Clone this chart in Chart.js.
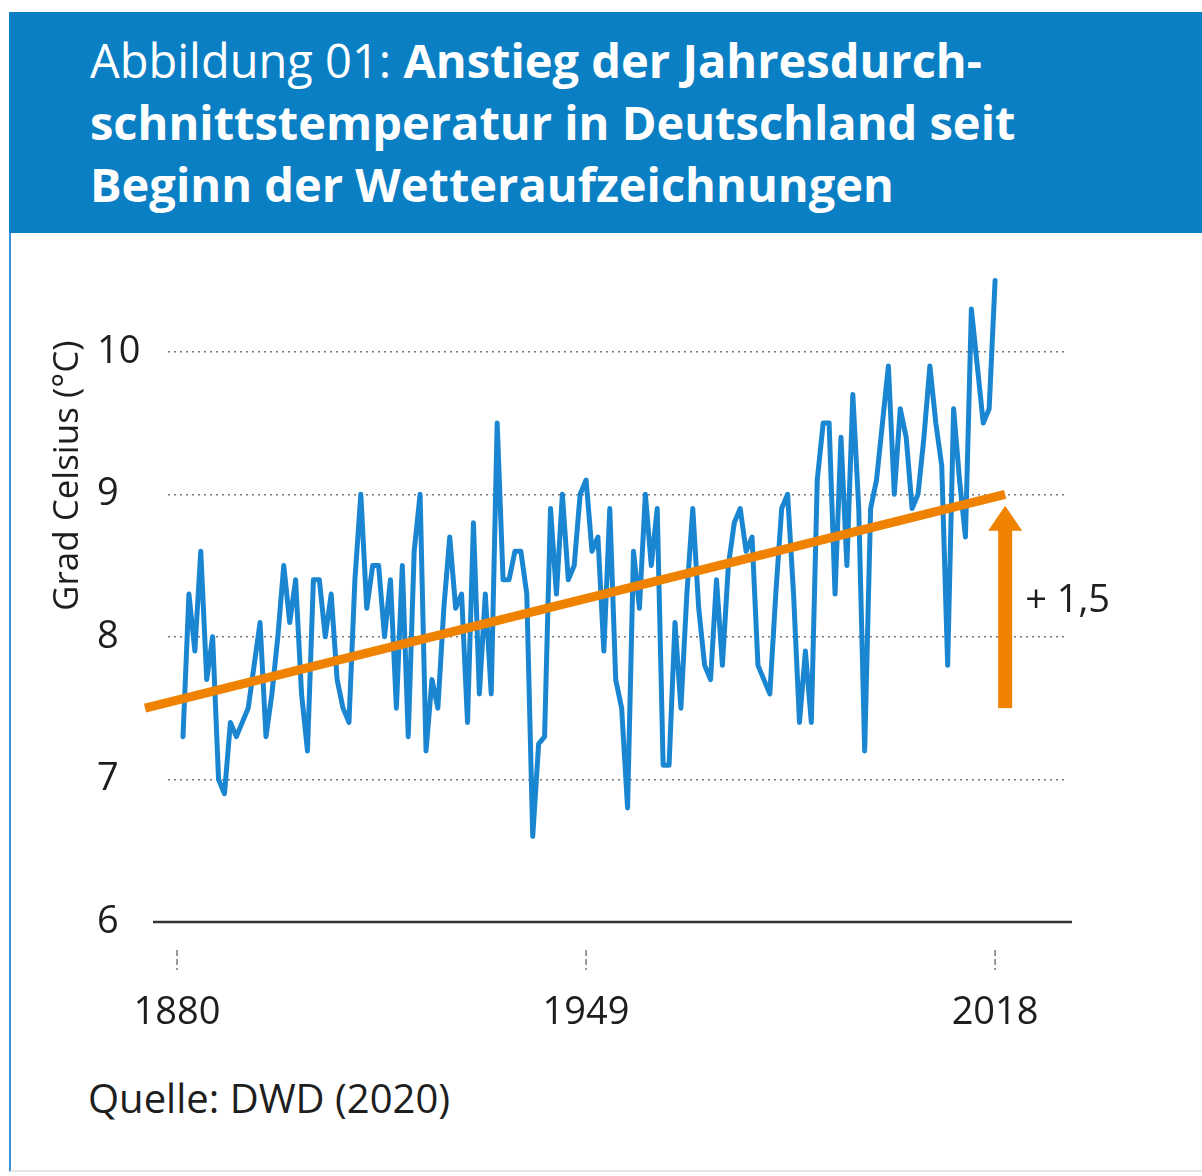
<!DOCTYPE html>
<html lang="de">
<head>
<meta charset="utf-8">
<title>Anstieg der Jahresdurchschnittstemperatur in Deutschland</title>
<script src="https://cdn.jsdelivr.net/npm/chart.js@4.4.1/dist/chart.umd.min.js"></script>
<style>
  html, body { margin: 0; padding: 0; background: #fff; }
  body { width: 1202px; height: 1176px; position: relative; overflow: hidden; font-family: "Open Sans", sans-serif; color: #1e1e1e; }
  #panel { position: absolute; left: 9px; top: 12px; width: 1193px; height: 1160px; border-left: 2px solid #3b92d2; border-bottom: 2px solid #e2e8ea; box-sizing: border-box; }
  #header { position: absolute; left: 9px; top: 12px; width: 1193px; height: 221px; background: #0b7fc4; }
  #title { position: absolute; left: 90px; top: 29px; margin: 0; color: #fff; font-size: 47px; line-height: 62px; font-weight: 700; white-space: nowrap; }
  #title span { font-weight: 400; }
  #source { position: absolute; left: 88px; top: 1072px; font-size: 40px; line-height: 52px; }
  #chart { position: absolute; left: 0; top: 242px; }
</style>
</head>
<body>
<div id="panel"></div>
<div id="header"></div>
<h1 id="title"><span>Abbildung 01:</span> Anstieg der Jahresdurch-<br>schnittstemperatur in Deutschland seit<br>Beginn der Wetteraufzeichnungen</h1>
<canvas id="chart" width="1202" height="820"></canvas>
<div id="source">Quelle: DWD (2020)</div>

<script>
// Jahresmittel Deutschland, 1881 - 2018 (°C)
var firstYear = 1881;
var temperatures = [
    7.3, 8.3, 7.9, 8.6, 7.7, 8.0, 7.0, 6.9, 7.4, 7.3,      // 1881-1890
    7.4, 7.5, 7.8, 8.1, 7.3, 7.6, 8.0, 8.5, 8.1, 8.4,      // 1891-1900
    7.6, 7.2, 8.4, 8.4, 8.0, 8.3, 7.7, 7.5, 7.4, 8.4,      // 1901-1910
    9.0, 8.2, 8.5, 8.5, 8.0, 8.4, 7.5, 8.5, 7.3, 8.6,      // 1911-1920
    9.0, 7.2, 7.7, 7.5, 8.2, 8.7, 8.2, 8.3, 7.4, 8.8,      // 1921-1930
    7.6, 8.3, 7.6, 9.5, 8.4, 8.4, 8.6, 8.6, 8.3, 6.6,      // 1931-1940
    7.25, 7.3, 8.9, 8.3, 9.0, 8.4, 8.5, 9.0, 9.1, 8.6,     // 1941-1950
    8.7, 7.9, 8.9, 7.7, 7.5, 6.8, 8.6, 8.2, 9.0, 8.5,      // 1951-1960
    8.9, 7.1, 7.1, 8.1, 7.5, 8.3, 8.9, 8.2, 7.8, 7.7,      // 1961-1970
    8.4, 7.8, 8.5, 8.8, 8.9, 8.6, 8.7, 7.8, 7.7, 7.6,      // 1971-1980
    8.3, 8.9, 9.0, 8.3, 7.4, 7.9, 7.4, 9.1, 9.5, 9.5,      // 1981-1990
    8.3, 9.4, 8.5, 9.7, 8.9, 7.2, 8.9, 9.1, 9.5, 9.9,      // 1991-2000
    9.0, 9.6, 9.4, 8.9, 9.0, 9.4, 9.9, 9.5, 9.2, 7.8,      // 2001-2010
    9.6, 9.1, 8.7, 10.3, 9.9, 9.5, 9.6, 10.5               // 2011-2018
];
var years = temperatures.map(function (v, i) { return firstYear + i; });

// orange trend line and the "+ 1,5" arrow
var trendYears = [1874.6, 2019.7];
var trendValues = [7.5, 9.0];
var arrowYear = 2019.7;
var arrowFrom = 7.5;
var arrowTo = 8.92;
var riseLabel = '+ 1,5';
var riseLabelValue = 8.25;

var xTicks = [1880, 1949, 2018];
var yTicks = [6, 7, 8, 9, 10];
var yMin = 6;
var yMax = 10.58;
var yTitle = 'Grad Celsius (°C)';
var yTitleCenter = 9.13;

var blue = '#1a86d1';
var orange = '#ef8200';
var textColor = '#1e1e1e';
var labelFont = { family: '"Open Sans", sans-serif', size: 38 };

var extras = {
    id: 'extras',
    afterDatasetsDraw: function (chart) {
        var ctx = chart.ctx;
        var xs = chart.scales.x;
        var ys = chart.scales.y;
        var area = chart.chartArea;
        var y0 = ys.getPixelForValue(yMin);

        ctx.save();
        // base line at 6 °C
        ctx.strokeStyle = '#333';
        ctx.lineWidth = 2.5;
        ctx.beginPath();
        ctx.moveTo(area.left - 15, y0);
        ctx.lineTo(area.right + 4, y0);
        ctx.stroke();

        // small dashed tick marks under the axis
        ctx.strokeStyle = '#777';
        ctx.lineWidth = 1.5;
        ctx.setLineDash([6, 3]);
        xs.ticks.forEach(function (t) {
            var px = xs.getPixelForValue(t.value);
            ctx.beginPath();
            ctx.moveTo(px, y0 + 28);
            ctx.lineTo(px, y0 + 48);
            ctx.stroke();
        });
        ctx.setLineDash([]);

        // arrow
        var ax = xs.getPixelForValue(arrowYear);
        var yb = ys.getPixelForValue(arrowFrom);
        var yt = ys.getPixelForValue(arrowTo);
        ctx.fillStyle = orange;
        ctx.fillRect(ax - 7, yt + 24, 14, yb - yt - 24);
        ctx.beginPath();
        ctx.moveTo(ax, yt);
        ctx.lineTo(ax + 17, yt + 25);
        ctx.lineTo(ax - 17, yt + 25);
        ctx.closePath();
        ctx.fill();

        // "+ 1,5"
        ctx.fillStyle = textColor;
        ctx.font = '38px "Open Sans", sans-serif';
        ctx.textAlign = 'left';
        ctx.textBaseline = 'middle';
        ctx.fillText(riseLabel, ax + 20, ys.getPixelForValue(riseLabelValue));

        // y axis title
        ctx.font = '35px "Open Sans", sans-serif';
        ctx.textAlign = 'center';
        ctx.translate(68, ys.getPixelForValue(yTitleCenter));
        ctx.rotate(-Math.PI / 2);
        ctx.fillText(yTitle, 0, 0);
        ctx.restore();
    }
};

var ctx = document.getElementById('chart').getContext('2d');
var chart = new Chart(ctx, {
    type: 'line',
    data: {
        datasets: [{
            label: 'Trend',
            data: trendYears.map(function (x, i) { return { x: x, y: trendValues[i] }; }),
            borderColor: orange,
            borderWidth: 9,
            pointRadius: 0,
            clip: false,
            order: 0
        }, {
            label: 'Jahresmittel',
            data: years.map(function (x, i) { return { x: x, y: temperatures[i] }; }),
            borderColor: blue,
            borderWidth: 5,
            borderJoinStyle: 'round',
            borderCapStyle: 'round',
            pointRadius: 0,
            tension: 0,
            order: 1
        }]
    },
    options: {
        responsive: false,
        devicePixelRatio: 1,
        animation: false,
        events: [],
        layout: {
            padding: { top: 27, left: 97, right: 134, bottom: 0 }
        },
        plugins: {
            legend: { display: false },
            tooltip: { enabled: false }
        },
        scales: {
            x: {
                type: 'linear',
                min: 1878.47,
                max: 2030.3,
                afterBuildTicks: function (scale) {
                    scale.ticks = xTicks.map(function (v) { return { value: v }; });
                },
                afterFit: function (scale) { scale.height = 140; },
                grid: { display: true, drawOnChartArea: false, drawTicks: false },
                border: { display: false },
                ticks: {
                    color: textColor,
                    font: labelFont,
                    padding: 68,
                    maxRotation: 0,
                    autoSkip: false,
                    callback: function (value) { return String(value); }
                }
            },
            y: {
                min: yMin,
                max: yMax,
                afterBuildTicks: function (scale) {
                    scale.ticks = yTicks.map(function (v) { return { value: v }; });
                },
                afterFit: function (scale) { scale.width = 71; },
                grid: {
                    drawTicks: false,
                    lineWidth: 1.5,
                    color: function (c) {
                        return c.tick && c.tick.value === yMin ? 'rgba(0,0,0,0)' : '#7a7a7a';
                    }
                },
                border: { display: false, dash: [2, 4] },
                ticks: {
                    color: textColor,
                    font: labelFont,
                    crossAlign: 'far',
                    callback: function (value) { return String(value); }
                }
            }
        }
    },
    plugins: [extras]
});
</script>
</body>
</html>
